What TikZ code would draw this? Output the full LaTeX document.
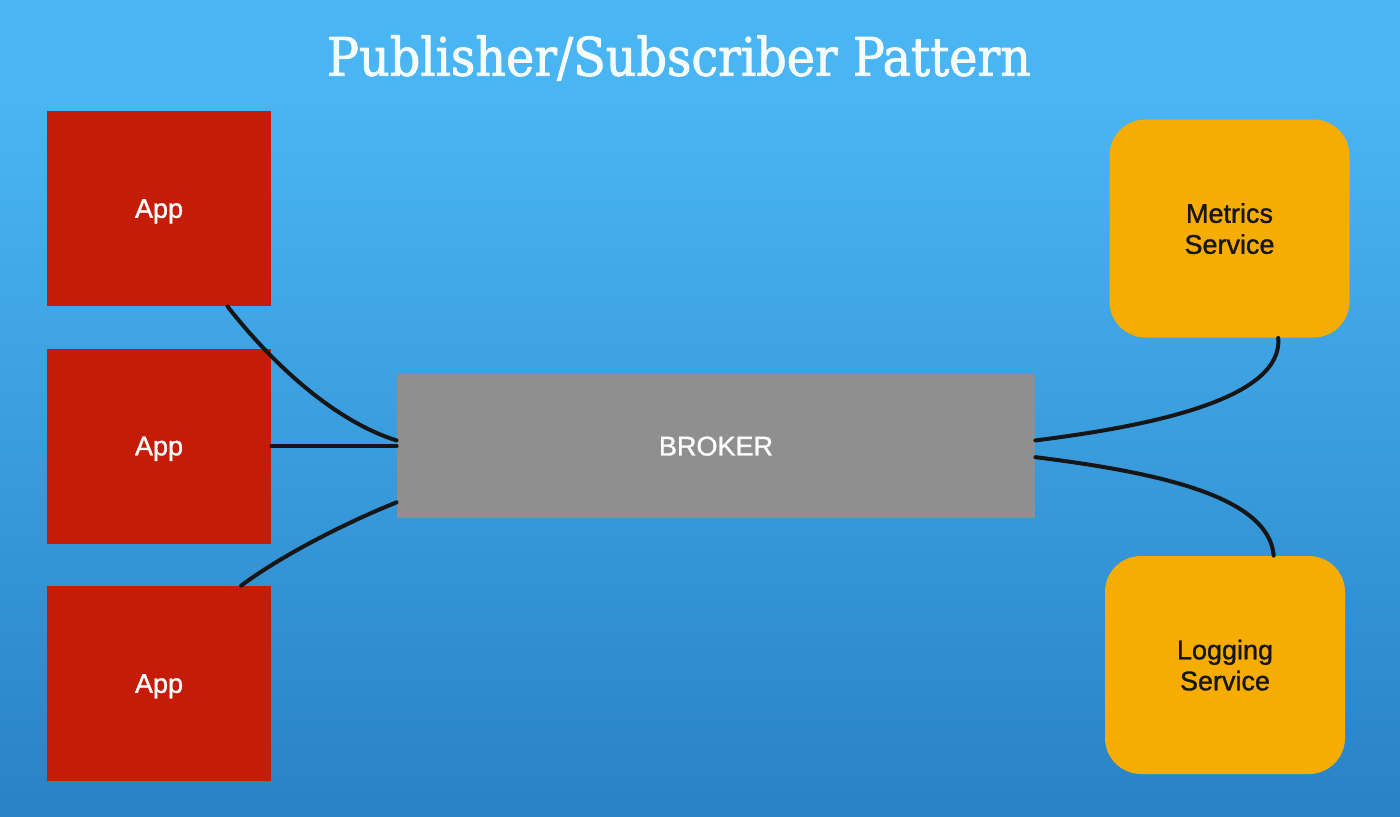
\documentclass[tikz,border=0pt]{standalone}
\usepackage{fontspec}
\setmainfont{Liberation Sans}
\newfontfamily\labelfont{Liberation Sans}[FakeBold=1.2]
\newfontfamily\titlefont{DejaVu Serif Condensed}[FakeBold=1.6]
\usetikzlibrary{positioning}
\definecolor{skytop}{HTML}{4AB5F3}
\definecolor{skybot}{HTML}{2882C6}
\definecolor{appred}{HTML}{C41C06}
\definecolor{svcorange}{HTML}{F7AC02}
\definecolor{brokergray}{HTML}{8E8F8E}
\definecolor{ink}{HTML}{161616}
\begin{document}
\begin{tikzpicture}[x=0.5pt,y=-0.5pt, line join=round, line cap=round,
	box/.style={inner sep=0pt, align=center, font=\labelfont\fontsize{13.5}{15.5}\selectfont, text depth=-5pt},
	app/.style={box, fill=appred, text=white, minimum width=112pt, minimum height=97.5pt},
	service/.style={box, fill=svcorange, text=ink, rounded corners=18pt, minimum width=120pt, minimum height=109pt},
	wire/.style={draw=ink, line width=2pt}]
	\def\W{1400} \def\H{816} % size of the slide
	% background
	\fill[skytop] (0,0) rectangle (\W,100);
	\shade[top color=skytop, bottom color=skybot] (0,100) rectangle (\W,\H);
	\node[text=white!96!cyan, font=\titlefont\fontsize{26.5}{30}\selectfont] (title) at (679,58) {Publisher/Subscriber Pattern};
	% publishers
	\node[app] (app1) at (159,208.5) {App};
	\node[app] (app2) at (159,446) {App};
	\node[app] (app3) at (159,683.5) {App};
	\node[box, fill=brokergray, text=white, minimum width=319pt, minimum height=72pt] (broker) at (716,446) {BROKER};
	% subscribers
	\node[service] (metrics) at (1229.5,228.5) {Metrics\\Service};
	\node[service] (logging) at (1225,665) {Logging\\Service};
	% connections
	\draw[wire] (app1.-55) .. controls +(35,45) and +(-70,-22) .. (broker.179);
	\draw[wire] (app2.east) -- (broker.west);
	\draw[wire] (app3.50) .. controls +(40,-30) and +(-50,20) .. (broker.-170.4);
	\draw[wire] (broker.1.4) .. controls +(120,-15) and +(5,60) .. (metrics.-66);
	\draw[wire] (broker.-2.6) .. controls +(120,15) and +(-5,-60) .. (logging.66);
\end{tikzpicture}
\end{document}
